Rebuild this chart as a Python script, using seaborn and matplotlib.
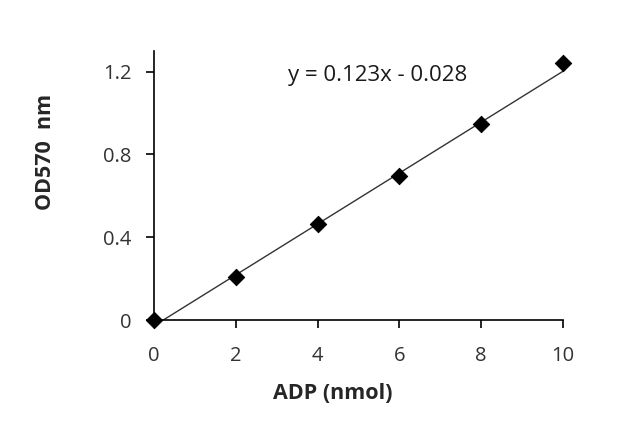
import numpy as np
import pandas as pd
import matplotlib
matplotlib.use("Agg")
import matplotlib.pyplot as plt
import seaborn as sns

# standard curve values
adp_nmol = [0, 2, 4, 6, 8, 10]
od570 = [0.0, 0.208, 0.464, 0.697, 0.948, 1.243]
slope = 0.123
intercept = -0.028
equation = "y = 0.123x - 0.028"
x_ticks = [0, 2, 4, 6, 8, 10]
y_ticks = [0, 0.4, 0.8, 1.2]
y_tick_labels = ["0", "0.4", "0.8", "1.2"]

sns.set_style("white")
plt.rcParams["font.family"] = ["Open Sans", "DejaVu Sans"]

df = pd.DataFrame({"ADP": adp_nmol, "OD": od570})

fig = plt.figure(figsize=(6.4, 4.36), dpi=100)
ax = fig.add_axes([0.2406, 0.266, 0.639, 0.617])

# trendline from the fitted equation
xs = np.array([x_ticks[0], x_ticks[-1]])
ax.plot(xs, slope * xs + intercept, color="#333333", linewidth=1.0, zorder=2)

sns.scatterplot(
    data=df,
    x="ADP",
    y="OD",
    marker="D",
    s=70,
    color="black",
    edgecolor="black",
    ax=ax,
    zorder=3,
    clip_on=False,
)

ax.set_xlim(0, 10)
ax.set_ylim(0, 1.3)
ax.set_xticks(x_ticks)
ax.set_yticks(y_ticks)
ax.set_yticklabels(y_tick_labels)
ax.tick_params(axis="both", direction="out", length=6, width=1.2,
               labelsize=14.5, colors="black", labelcolor="#333333",
               bottom=True, left=True)
ax.tick_params(axis="y", pad=10)
ax.tick_params(axis="x", pad=13)
for side in ["top", "right"]:
    ax.spines[side].set_visible(False)
for side in ["left", "bottom"]:
    ax.spines[side].set_color("black")
    ax.spines[side].set_linewidth(1.2)

ax.set_xlabel("ADP (nmol)", fontsize=15.5, fontweight="bold")
ax.set_ylabel("OD570  nm", fontsize=15.5, fontweight="bold")
ax.xaxis.label.set_verticalalignment("center")
ax.yaxis.label.set_verticalalignment("center")
ax.xaxis.set_label_coords(0.438, -0.273)
ax.yaxis.set_label_coords(-0.265, 0.625)

ax.text(3.28, 1.18, equation, fontsize=16, va="center", ha="left",
        color="#1a1a1a")

fig.savefig("out.png", dpi=100)
